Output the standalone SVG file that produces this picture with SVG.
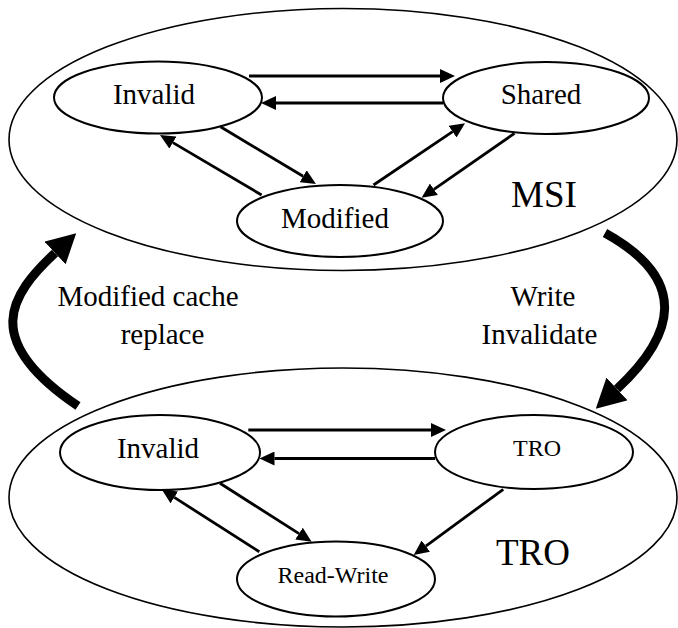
<svg xmlns="http://www.w3.org/2000/svg" width="678" height="628" viewBox="0 0 678 628">
  <style>
    .group { fill: none; stroke: #000; stroke-width: 1.6; }
    .state { fill: #fff; stroke: #000; stroke-width: 2; }
    .edge { fill: none; stroke: #000; stroke-width: 2.8; marker-end: url(#head); }
    .switch { fill: none; stroke: #000; stroke-width: 9; marker-end: url(#bighead); }
    text { font-family: "Liberation Serif", "Times New Roman", serif; fill: #000; text-anchor: middle; }
    .lbl { font-size: 29px; }
    .small { font-size: 24px; }
    .title { font-size: 37px; }
  </style>
  <defs>
    <marker id="head" markerUnits="userSpaceOnUse" markerWidth="15" markerHeight="14" refX="0" refY="7" orient="auto">
      <path d="M0,0 L15,7 L0,14 z" fill="#000"/>
    </marker>
    <marker id="bighead" markerUnits="userSpaceOnUse" markerWidth="29" markerHeight="31" refX="0" refY="15.5" orient="auto">
      <path d="M0,0 L29,15.5 L0,31 z" fill="#000"/>
    </marker>
  </defs>

  <!-- protocol containers -->
  <g id="msi">
    <ellipse class="group" cx="343" cy="139.5" rx="334" ry="131"/>
    <text class="title" x="544" y="207">MSI</text>
  </g>
  <g id="tro-protocol">
    <ellipse class="group" cx="343" cy="497.5" rx="334" ry="129.5"/>
    <text class="title" x="533" y="565">TRO</text>
  </g>

  <!-- MSI states -->
  <g id="msi-invalid">
    <ellipse class="state" cx="158" cy="97.5" rx="104" ry="36"/>
    <text class="lbl" x="154" y="104">Invalid</text>
  </g>
  <g id="msi-shared">
    <ellipse class="state" cx="546" cy="98" rx="103" ry="36"/>
    <text class="lbl" x="541" y="104">Shared</text>
  </g>
  <g id="msi-modified">
    <ellipse class="state" cx="340" cy="221" rx="103" ry="36"/>
    <text class="lbl" x="335" y="228">Modified</text>
  </g>

  <!-- TRO states -->
  <g id="tro-invalid">
    <ellipse class="state" cx="160" cy="452.5" rx="100" ry="37.5"/>
    <text class="lbl" x="158" y="458">Invalid</text>
  </g>
  <g id="tro-tro">
    <ellipse class="state" cx="534" cy="452" rx="99" ry="37"/>
    <text class="small" x="537" y="456">TRO</text>
  </g>
  <g id="tro-readwrite">
    <ellipse class="state" cx="336" cy="579" rx="99" ry="37.5"/>
    <text class="small" x="333" y="583">Read-Write</text>
  </g>

  <!-- transitions -->
  <g id="connectors">
    <path class="edge" d="M249,76 L440,76"/>
    <path class="edge" d="M443,103 L276,103"/>
    <path class="edge" d="M220.5,126.7 L303.1,176.3"/>
    <path class="edge" d="M261.6,195 L172.9,142.6"/>
    <path class="edge" d="M373.5,185 L452.6,131.7"/>
    <path class="edge" d="M514.5,133.3 L433.9,189.3"/>

    <path class="edge" d="M248.3,430 L431,430"/>
    <path class="edge" d="M435,458.5 L274.5,458.5"/>
    <path class="edge" d="M220,483.3 L299,533.6"/>
    <path class="edge" d="M259.3,551.7 L174.3,497.4"/>
    <path class="edge" d="M503.3,489.3 L425.8,546.1"/>

    <path class="switch" d="M78,406 C-20,340 10,295 55,253"/>
    <path class="switch" d="M605,233 C690,280 675,335 617,389"/>
  </g>

  <!-- transition labels -->
  <g id="labels">
    <text class="lbl" x="148" y="306">Modified cache</text>
    <text class="lbl" x="162.5" y="344">replace</text>
    <text class="lbl" x="543" y="306">Write</text>
    <text class="lbl" x="539.5" y="344">Invalidate</text>
  </g>
</svg>
